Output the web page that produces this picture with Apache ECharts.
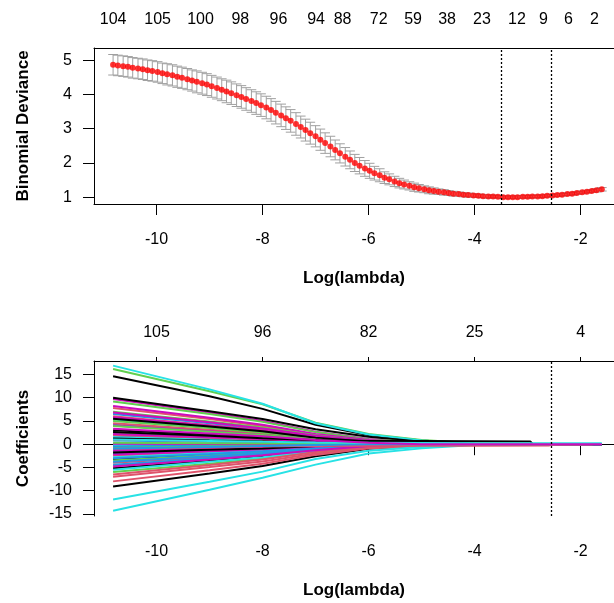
<!DOCTYPE html>
<html>
<head>
<meta charset="utf-8">
<script src="https://cdn.jsdelivr.net/npm/echarts@6/dist/echarts.min.js"></script>
<style>
  html, body { margin: 0; padding: 0; background: #fff; }
  #chart { width: 614px; height: 603px; }
</style>
</head>
<body>
<div id="chart"></div>
<script>
// log(lambda) grid of the cross-validated fit
const logLambda = [
  -10.82, -10.73, -10.63, -10.54, -10.45, -10.35, -10.26, -10.17, -10.08, -9.98,
  -9.89, -9.80, -9.70, -9.61, -9.52, -9.42, -9.33, -9.24, -9.14, -9.05,
  -8.96, -8.86, -8.77, -8.68, -8.59, -8.49, -8.40, -8.31, -8.21, -8.12,
  -8.03, -7.93, -7.84, -7.75, -7.65, -7.56, -7.47, -7.37, -7.28, -7.19,
  -7.10, -7.00, -6.91, -6.82, -6.72, -6.63, -6.54, -6.44, -6.35, -6.26,
  -6.17, -6.07, -5.98, -5.89, -5.79, -5.70, -5.61, -5.51, -5.42, -5.33,
  -5.23, -5.14, -5.05, -4.95, -4.86, -4.77, -4.68, -4.58, -4.49, -4.40,
  -4.30, -4.21, -4.12, -4.02, -3.93, -3.84, -3.74, -3.65, -3.56, -3.46,
  -3.37, -3.28, -3.19, -3.09, -3.00, -2.91, -2.81, -2.72, -2.63, -2.53,
  -2.44, -2.35, -2.25, -2.16, -2.07, -1.97, -1.88, -1.79, -1.70, -1.60
];

// mean cross-validated binomial deviance
const cvMean = [
  4.87, 4.85, 4.83, 4.81, 4.78, 4.76, 4.74, 4.71, 4.69, 4.66,
  4.62, 4.59, 4.56, 4.52, 4.49, 4.45, 4.41, 4.37, 4.33, 4.29,
  4.24, 4.19, 4.14, 4.09, 4.04, 3.98, 3.93, 3.87, 3.81, 3.75,
  3.69, 3.62, 3.55, 3.47, 3.39, 3.31, 3.23, 3.14, 3.05, 2.96,
  2.87, 2.78, 2.68, 2.58, 2.48, 2.38, 2.28, 2.18, 2.09, 2.00,
  1.92, 1.84, 1.77, 1.70, 1.64, 1.57, 1.52, 1.46, 1.41, 1.37,
  1.33, 1.29, 1.26, 1.23, 1.20, 1.18, 1.16, 1.14, 1.12, 1.10,
  1.09, 1.07, 1.06, 1.05, 1.04, 1.03, 1.02, 1.02, 1.01, 1.00,
  1.00, 1.00, 1.00, 1.01, 1.01, 1.02, 1.02, 1.03, 1.04, 1.05,
  1.06, 1.07, 1.09, 1.10, 1.12, 1.14, 1.16, 1.18, 1.20, 1.23
];

// standard error of the deviance
const cvSd = [
  0.30, 0.30, 0.30, 0.30, 0.30, 0.30, 0.30, 0.30, 0.30, 0.30,
  0.30, 0.31, 0.31, 0.31, 0.31, 0.31, 0.31, 0.32, 0.32, 0.32,
  0.32, 0.32, 0.32, 0.33, 0.33, 0.33, 0.33, 0.33, 0.33, 0.33,
  0.33, 0.33, 0.33, 0.33, 0.33, 0.33, 0.33, 0.33, 0.32, 0.32,
  0.32, 0.31, 0.31, 0.30, 0.30, 0.29, 0.28, 0.27, 0.26, 0.25,
  0.24, 0.23, 0.22, 0.20, 0.19, 0.17, 0.16, 0.15, 0.14, 0.13,
  0.12, 0.12, 0.11, 0.10, 0.10, 0.09, 0.08, 0.08, 0.07, 0.07,
  0.06, 0.06, 0.06, 0.05, 0.05, 0.05, 0.05, 0.04, 0.04, 0.04,
  0.04, 0.04, 0.04, 0.04, 0.04, 0.04, 0.04, 0.04, 0.04, 0.04,
  0.04, 0.04, 0.04, 0.04, 0.04, 0.04, 0.04, 0.04, 0.05, 0.05
];

// number of non-zero coefficients shown along the top of the CV plot
const nzTopPos  = [-10.82, -9.98, -9.17, -8.42, -7.70, -6.99, -6.49, -5.81, -5.16, -4.52, -3.86, -3.20, -2.70, -2.23, -1.74];
const nzTopText = ['104', '105', '100', '98', '96', '94', '88', '72', '59', '38', '23', '12', '9', '6', '2'];

const lambdaMin = -3.49;
const lambda1se = -2.56;

const xTicks = [-10, -8, -6, -4, -2];
const devTicks = [1, 2, 3, 4, 5];
const coefTicks = [-15, -10, -5, 0, 5, 10, 15];
const pathNzText = ['105', '96', '82', '25', '4'];

// coefficient paths: values at these log(lambda) knots, zero afterwards
const pathKnots = [-10.82, -9, -8, -7, -6, -5, -4];
const coefPaths = [
  [14.6, 10.3, 7.6, 4.2, 2.0, 0.8, 0.1],
  [7.8, 5.4, 3.9, 2.0, 0.7, 0.2],
  [16.2, 11.4, 8.6, 4.6, 2.2, 0.9, 0.2],
  [6.5, 4.5, 3.2, 1.6, 0.5, 0.1],
  [16.9, 11.8, 8.7, 4.5, 2.1, 0.8, 0.1],
  [9.7, 6.8, 5.0, 2.7, 1.1, 0.4],

  [10.0, 7.1, 5.4, 3.2, 1.6, 0.5],
  [6.0, 4.1, 3.0, 1.5, 0.5, 0.1],
  [9.2, 6.5, 4.8, 2.6, 1.0, 0.4],
  [4.2, 2.9, 2.1, 1.0, 0.3],
  [5.3, 3.7, 2.7, 1.4, 0.4, 0.1],
  [8.2, 5.7, 4.2, 2.2, 0.9, 0.3],

  [3.0, 2.1, 1.5, 0.8, 0.2],
  [4.5, 3.1, 2.3, 1.2, 0.4, 0.1],
  [7.0, 4.9, 3.6, 1.9, 0.7, 0.2],
  [1.8, 1.2, 0.8, 0.4, 0.05],
  [1.5, 1.0, 0.7, 0.3],
  [6.8, 4.7, 3.4, 1.8, 0.7, 0.2],

  [-0.3, -0.2, -0.1],
  [2.0, 1.4, 1.0, 0.5, 0.1],
  [5.0, 3.5, 2.5, 1.3, 0.5, 0.1],
  [0.8, 0.5, 0.3, 0.1],
  [-0.2, -0.1],
  [5.8, 4.0, 2.9, 1.5, 0.6, 0.2],

  [-3.2, -2.2, -1.6, -0.8, -0.2],
  [1.0, 0.7, 0.5, 0.2],
  [2.5, 1.7, 1.2, 0.6, 0.15],
  [-0.5, -0.3, -0.2, -0.1],
  [-1.0, -0.7, -0.5, -0.2],
  [4.0, 2.8, 2.0, 1.0, 0.3],

  [-5.2, -3.6, -2.7, -1.4, -0.5, -0.1],
  [-2.5, -1.7, -1.2, -0.6, -0.1],
  [-0.8, -0.5, -0.3, -0.1],
  [-1.2, -0.8, -0.6, -0.3],
  [-1.6, -1.1, -0.8, -0.4, -0.1],
  [2.2, 1.5, 1.1, 0.5, 0.1],

  [-9.1, -6.3, -4.7, -2.6, -1.0, -0.3],
  [-4.0, -2.8, -2.0, -1.0, -0.3],
  [-3.5, -2.4, -1.7, -0.9, -0.25],
  [-2.0, -1.4, -1.0, -0.5, -0.1],
  [-2.8, -1.9, -1.4, -0.7, -0.2],
  [0.1, 0.05],

  [1.2, 0.8, 0.6, 0.3],
  [-7.0, -4.9, -3.7, -2.0, -0.8, -0.3],
  [-6.0, -4.2, -3.1, -1.6, -0.6, -0.15],
  [-3.0, -2.1, -1.5, -0.8, -0.2],
  [-5.5, -3.8, -2.8, -1.4, -0.5, -0.1],
  [-1.4, -1.0, -0.7, -0.3],

  [5.5, 3.8, 2.8, 1.4, 0.5, 0.1],
  [-8.0, -5.6, -4.2, -2.3, -0.9, -0.35, -0.05],
  [-4.6, -3.2, -2.3, -1.2, -0.4, -0.1],
  [-3.8, -2.6, -1.9, -1.0, -0.3],
  [-11.9, -8.1, -5.9, -3.2, -1.4, -0.6, -0.05],
  [-2.2, -1.5, -1.1, -0.5, -0.1],

  [-1.8, -1.2, -0.9, -0.4, -0.1],
  [-6.5, -4.5, -3.3, -1.7, -0.6, -0.2],
  [3.9, 2.7, 2.0, 1.0, 0.3],
  [-4.4, -3.0, -2.2, -1.1, -0.35],
  [-14.3, -9.8, -7.2, -4.4, -2.0, -0.9, -0.15],
  [-4.8, -3.3, -2.4, -1.3, -0.4, -0.1],

  [2.6, 1.8, 1.3, 0.9, 0.7, 0.7, 0.65],
  [-1.0, -0.7, -0.5, -0.4, -0.35, -0.35, -0.35],
  [0.3, 0.2, 0.15, 0.1, 0.1, 0.05, 0.05],
  [-0.9, -0.6, -0.4, -0.2],
  [1.0, 0.7, 0.5, 0.35, 0.3, 0.25, 0.2],
  [3.3, 2.3, 1.7, 0.9, 0.3]
];

// paths that stay non-zero past the last knot
const coefTails = {
  60: [[-2.95, 0.6], [-2.9, 0]],
  61: [[-2.6, -0.3], [-2.55, -0.15], [-1.8, -0.1], [-1.75, 0]],
  62: [[-1.6, 0.05]],
  64: [[-1.6, 0.2]]
};
const pathEnd = -1.6;

// matplot default colour cycle
const palette = ['#000000', '#DF536B', '#61D04F', '#2297E6', '#28E2E5', '#CD0BBC'];

const FONT = 'Liberation Sans, Arial, sans-serif';
// the plotting region runs past the right edge of the page
const X_MIN = -11.18, X_MAX = -1.37;
const capHalf = 0.092;

const tickLabel = { color: '#000', fontFamily: FONT, fontSize: 16 };
const axisName = { color: '#000', fontFamily: FONT, fontSize: 17, fontWeight: 'bold' };
const blackLine = { color: '#000', width: 1 };

function bottomX(gridIndex) {
  return {
    type: 'value', gridIndex, position: 'bottom', min: X_MIN, max: X_MAX,
    splitLine: { show: false }, axisLine: { show: true, lineStyle: blackLine },
    axisTick: { show: true, length: 11, customValues: xTicks, lineStyle: blackLine },
    axisLabel: Object.assign({ customValues: xTicks, margin: 28, formatter: v => String(v) }, tickLabel),
    name: 'Log(lambda)', nameLocation: 'middle', nameGap: 66, nameTextStyle: axisName
  };
}

function topX(gridIndex, positions, texts, tickLen) {
  return {
    type: 'value', gridIndex, position: 'top', min: X_MIN, max: X_MAX,
    splitLine: { show: false }, axisLine: { show: true, lineStyle: blackLine },
    axisTick: { show: tickLen > 0, length: tickLen, customValues: positions, lineStyle: blackLine },
    axisLabel: Object.assign({
      customValues: positions, margin: 20,
      formatter: v => {
        const k = positions.findIndex(p => Math.abs(p - v) < 1e-6);
        return k >= 0 ? texts[k] : '';
      }
    }, tickLabel)
  };
}

function leftY(gridIndex, min, max, ticks, title) {
  return {
    type: 'value', gridIndex, min, max,
    splitLine: { show: false }, axisLine: { show: true, lineStyle: blackLine },
    axisTick: { show: true, length: 11, customValues: ticks, lineStyle: blackLine },
    axisLabel: Object.assign({ customValues: ticks, margin: 22, formatter: v => String(v) }, tickLabel),
    name: title, nameLocation: 'middle', nameGap: 62, nameRotate: 90, nameTextStyle: axisName
  };
}

const errData = logLambda.map((x, i) => [x, cvMean[i] - cvSd[i], cvMean[i] + cvSd[i]]);
const dotData = logLambda.map((x, i) => [x, cvMean[i]]);

const vline = (xs) => ({
  silent: true, symbol: 'none', animation: false,
  label: { show: false },
  lineStyle: { color: '#000', width: 1.3, type: [2, 2] },
  data: xs.map(x => ({ xAxis: x }))
});

const series = [];

// error bars (upper and lower limits with caps)
series.push({
  type: 'custom', xAxisIndex: 0, yAxisIndex: 0, silent: true, z: 2,
  encode: { x: 0, y: [1, 2] },
  data: errData,
  renderItem: (params, api) => {
    const x = api.value(0);
    const pLo = api.coord([x, api.value(1)]);
    const pHi = api.coord([x, api.value(2)]);
    const w = api.size([capHalf, 0])[0];
    const st = { stroke: '#A0A0A0', lineWidth: 1 };
    return {
      type: 'group',
      children: [
        { type: 'line', shape: { x1: pHi[0], y1: pHi[1], x2: pLo[0], y2: pLo[1] }, style: st },
        { type: 'line', shape: { x1: pHi[0] - w, y1: pHi[1], x2: pHi[0] + w, y2: pHi[1] }, style: st },
        { type: 'line', shape: { x1: pLo[0] - w, y1: pLo[1], x2: pLo[0] + w, y2: pLo[1] }, style: st }
      ]
    };
  }
});

// mean deviance dots, with the two selected lambdas marked
series.push({
  type: 'scatter', xAxisIndex: 0, yAxisIndex: 0, silent: true, z: 3,
  symbol: 'circle', symbolSize: 6,
  itemStyle: { color: '#FF0000' },
  data: dotData,
  markLine: vline([lambdaMin, lambda1se])
});

// coefficient paths
coefPaths.forEach((vals, k) => {
  const pts = pathKnots.map((x, j) => [x, vals[j] !== undefined ? vals[j] : 0]);
  if (coefTails[k]) pts.push(...coefTails[k]);
  if (pts[pts.length - 1][0] < pathEnd) pts.push([pathEnd, 0]);
  series.push({
    type: 'line', xAxisIndex: 2, yAxisIndex: 1, silent: true,
    showSymbol: false, symbol: 'none',
    lineStyle: { color: palette[k % palette.length], width: 2 },
    data: pts
  });
});

series.push({
  type: 'line', xAxisIndex: 2, yAxisIndex: 1, silent: true, data: [],
  markLine: vline([lambda1se])
});

const chart = echarts.init(document.getElementById('chart'), null, { renderer: 'canvas' });
chart.setOption({
  animation: false,
  backgroundColor: '#ffffff',
  textStyle: { fontFamily: FONT },
  grid: [
    { left: 94, top: 48, right: 0, height: 156, show: false },
    { left: 94, top: 361, right: 0, height: 155, show: false }
  ],
  xAxis: [
    bottomX(0),
    topX(0, nzTopPos, nzTopText, 0),
    bottomX(1),
    topX(1, xTicks, pathNzText, 4)
  ],
  yAxis: [
    leftY(0, 0.8, 5.36, devTicks, 'Binomial Deviance'),
    leftY(1, -15.45, 17.9, coefTicks, 'Coefficients')
  ],
  series
});
</script>
</body>
</html>
